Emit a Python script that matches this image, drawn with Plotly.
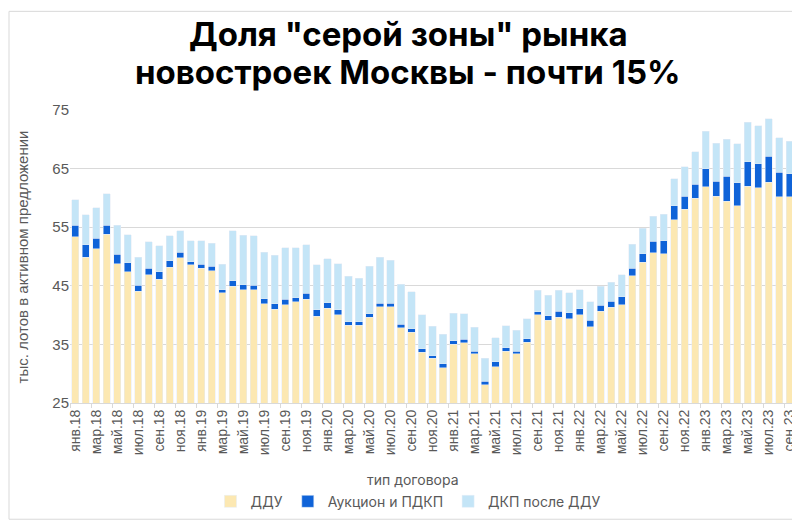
import plotly.graph_objs as go

months = ["янв", "фев", "мар", "апр", "май", "июн", "июл", "авг", "сен", "окт", "ноя", "дек"]
years = ["18", "19", "20", "21", "22", "23"]
periods = [m + "." + y for y in years for m in months][:69]
idx = list(range(len(periods)))

# тыс. лотов, ДДУ
ddu = [53.4, 49.9, 51.3, 53.8, 48.8, 47.4, 44.1, 46.9, 46.1, 48.2, 49.8, 48.6,
       48.0, 47.6, 43.8, 44.9, 44.3, 44.3, 41.9, 41.0, 41.8, 42.3, 42.7, 39.8,
       41.2, 40.1, 38.3, 38.3, 39.6, 41.4, 41.4, 37.8, 37.1, 33.7, 32.6, 31.0,
       35.0, 35.3, 33.4, 28.1, 31.2, 33.8, 33.4, 35.4, 40.1, 39.1, 39.6, 39.4,
       40.1, 38.0, 40.7, 41.3, 41.8, 46.7, 49.0, 50.6, 50.5, 56.3, 58.1, 59.9,
       61.9, 60.3, 59.4, 58.7, 62.0, 61.7, 62.7, 60.2, 60.2]

# Аукцион и ПДКП
auction = [1.9, 2.1, 1.8, 1.5, 1.6, 1.5, 1.0, 1.1, 1.3, 1.1, 0.9, 0.5,
           0.7, 0.7, 0.5, 1.0, 0.9, 0.8, 0.9, 0.9, 0.9, 0.7, 1.0, 1.1,
           0.9, 0.8, 0.6, 0.6, 0.6, 0.6, 0.6, 0.6, 0.6, 0.6, 0.5, 0.7,
           0.6, 0.6, 0.4, 0.6, 0.8, 0.6, 0.4, 0.6, 0.5, 0.8, 1.1, 1.0,
           1.0, 1.1, 1.0, 1.1, 1.3, 1.3, 1.5, 2.0, 2.2, 2.4, 2.2, 2.4,
           3.1, 2.5, 4.3, 3.9, 4.2, 4.1, 4.4, 4.2, 3.9]

# ДКП после ДДУ
dkp = [4.4, 5.1, 5.2, 5.4, 4.9, 4.8, 4.8, 4.5, 4.4, 4.2, 3.7, 3.6,
       4.0, 4.0, 4.4, 8.5, 8.4, 8.4, 7.9, 8.3, 8.8, 8.5, 8.3, 7.7,
       7.5, 7.9, 7.7, 7.4, 8.1, 7.9, 7.4, 6.9, 6.3, 5.8, 5.0, 5.0,
       4.7, 4.3, 4.1, 3.9, 4.1, 3.8, 3.6, 3.4, 3.6, 3.5, 3.5, 3.4,
       3.2, 3.2, 3.2, 3.2, 3.8, 4.1, 4.3, 4.3, 4.5, 4.6, 5.0, 5.6,
       6.4, 6.5, 6.3, 6.6, 6.7, 6.5, 6.4, 5.9, 5.6]

gray = "#595959"
mid = (400 - 62) / 725  # центр картинки в координатах paper

fig = go.Figure()
fig.add_trace(go.Bar(name="ДДУ", x=idx, y=ddu, marker_color="#fce8b2",
                     customdata=periods, hovertemplate="%{customdata}: %{y}"))
fig.add_trace(go.Bar(name="Аукцион и ПДКП", x=idx, y=auction, marker_color="#0f63d8",
                     customdata=periods, hovertemplate="%{customdata}: %{y}"))
fig.add_trace(go.Bar(name="ДКП после ДДУ", x=idx, y=dkp, marker_color="#c4e5f7",
                     customdata=periods, hovertemplate="%{customdata}: %{y}"))

fig.update_layout(barmode="stack",
                  bargap=0.32,
                  width=800,
                  height=522,
                  margin=dict(l=62, r=13, t=102, b=120),
                  plot_bgcolor="white",
                  paper_bgcolor="white",
                  font=dict(family="Liberation Sans, Arial", color=gray, size=13),
                  showlegend=True,
                  legend=dict(orientation="h",
                              x=mid,
                              xanchor="center",
                              y=-0.337,
                              yanchor="middle",
                              font=dict(family="Inter", size=14, color=gray),
                              itemwidth=30,
                              traceorder="normal"),
                  xaxis=dict(range=[-0.5, len(idx) - 0.5],
                             tickmode="array",
                             tickvals=idx[::2],
                             ticktext=periods[::2],
                             tickangle=-90,
                             ticks="",
                             minor=dict(tick0=-0.5, dtick=2, ticks="outside",
                                        ticklen=4, tickcolor="#d9d9d9", showgrid=False),
                             showline=True,
                             linecolor="#d9d9d9",
                             showgrid=False,
                             zeroline=False,
                             tickfont=dict(size=14, color=gray)),
                  yaxis=dict(range=[25, 75],
                             tickvals=[25, 35, 45, 55, 65, 75],
                             showgrid=True,
                             gridcolor="#d9d9d9",
                             zeroline=False,
                             showline=False,
                             ticks="",
                             tickfont=dict(size=15, color=gray)))

# заголовок
fig.add_annotation(text="<b>Доля \"серой зоны\" рынка</b>",
                   xref="paper", yref="paper",
                   x=mid, xanchor="center",
                   y=(402 - 24) / 300, yanchor="middle",
                   showarrow=False,
                   font=dict(family="Inter", size=33, color="black"))
fig.add_annotation(text="<b>новостроек Москвы - почти 15%</b>",
                   xref="paper", yref="paper",
                   x=mid, xanchor="center",
                   y=(402 - 63) / 300, yanchor="middle",
                   showarrow=False,
                   font=dict(family="Inter", size=33, color="black"))

fig.add_annotation(text="тыс. лотов в активном предложении",
                   xref="paper", yref="paper",
                   x=-0.065, xanchor="center",
                   y=0.5, yanchor="middle",
                   textangle=-90,
                   showarrow=False,
                   font=dict(size=15, color=gray))
fig.add_annotation(text="тип договора",
                   xref="paper", yref="paper",
                   x=(405 - 62) / 725, xanchor="center",
                   y=-0.26, yanchor="middle",
                   showarrow=False,
                   font=dict(family="Inter", size=14, color=gray))
fig.add_shape(type="rect",
              xref="paper", yref="paper",
              x0=-61 / 725, x1=737 / 725,
              y0=-119 / 300, y1=401 / 300,
              line=dict(color="#d9d9d9", width=1))

fig.write_html("out.html")
